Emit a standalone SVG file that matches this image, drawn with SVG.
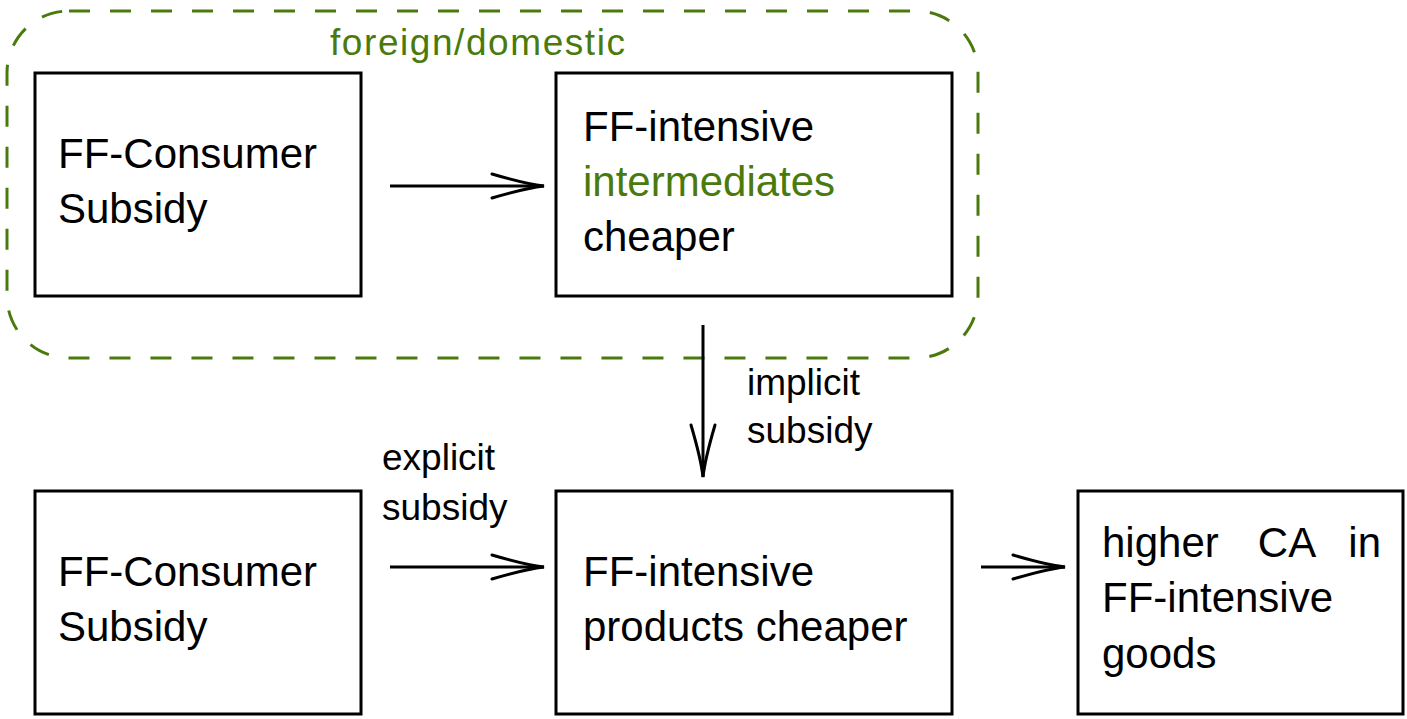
<svg xmlns="http://www.w3.org/2000/svg" width="1407" height="719" viewBox="0 0 1407 719">
<style>
.box{fill:#fff;stroke:#000;stroke-width:3}
.t{font-family:"Liberation Sans",Arial,sans-serif;font-size:42px;fill:#000}
.s{font-family:"Liberation Sans",Arial,sans-serif;font-size:37px;fill:#000}
.g{fill:#4a7a0c}
.edge{stroke:#000;stroke-width:3;fill:none}
.group{fill:none;stroke:#4a7a0c;stroke-width:3;stroke-dasharray:21 20}
</style>
<defs>
<marker id="arr" markerUnits="userSpaceOnUse" markerWidth="60" markerHeight="30" viewBox="-55 -15 60 30" refX="0" refY="0" orient="auto" overflow="visible">
<path d="M -52,-12 Q -18,-2 0,0 Q -18,2 -52,12" fill="none" stroke="#000" stroke-width="3" stroke-linecap="round"/>
</marker>
</defs>
<rect width="1407" height="719" fill="#fff"/>
<g id="foreign-domestic">
<rect class="group" x="7" y="11" width="971" height="347" rx="62" ry="62"/>
<text class="s g" x="330" y="55" textLength="295">foreign/domestic</text>
</g>
<g id="consumer-subsidy-top">
<rect class="box" x="35" y="73" width="326" height="223"/>
<text class="t" x="58" y="168">FF-Consumer</text>
<text class="t" x="58" y="223">Subsidy</text>
</g>
<g id="intermediates-cheaper">
<rect class="box" x="556" y="73" width="396" height="223"/>
<text class="t" x="583" y="141">FF-intensive</text>
<text class="t g" x="583" y="196">intermediates</text>
<text class="t" x="583" y="251">cheaper</text>
</g>
<g id="consumer-subsidy-bottom">
<rect class="box" x="35" y="491" width="326" height="223"/>
<text class="t" x="58" y="586">FF-Consumer</text>
<text class="t" x="58" y="641">Subsidy</text>
</g>
<g id="products-cheaper">
<rect class="box" x="556" y="491" width="396" height="223"/>
<text class="t" x="583" y="586">FF-intensive</text>
<text class="t" x="583" y="641">products cheaper</text>
</g>
<g id="higher-ca">
<rect class="box" x="1078" y="491" width="325" height="223"/>
<text class="t" x="1102" y="557">higher</text>
<text class="t" x="1287" y="557" text-anchor="middle">CA</text>
<text class="t" x="1381" y="557" text-anchor="end">in</text>
<text class="t" x="1102" y="612">FF-intensive</text>
<text class="t" x="1102" y="668">goods</text>
</g>
<g id="connectors">
<line class="edge" x1="390" y1="186" x2="544" y2="186" marker-end="url(#arr)"/>
<line class="edge" x1="703" y1="325" x2="703" y2="477" marker-end="url(#arr)"/>
<line class="edge" x1="390" y1="567" x2="544" y2="567" marker-end="url(#arr)"/>
<line class="edge" x1="981" y1="567" x2="1065" y2="567" marker-end="url(#arr)"/>
<text class="s" x="747" y="395">implicit</text>
<text class="s" x="747" y="443">subsidy</text>
<text class="s" x="382" y="470">explicit</text>
<text class="s" x="382" y="520">subsidy</text>
</g>
</svg>
